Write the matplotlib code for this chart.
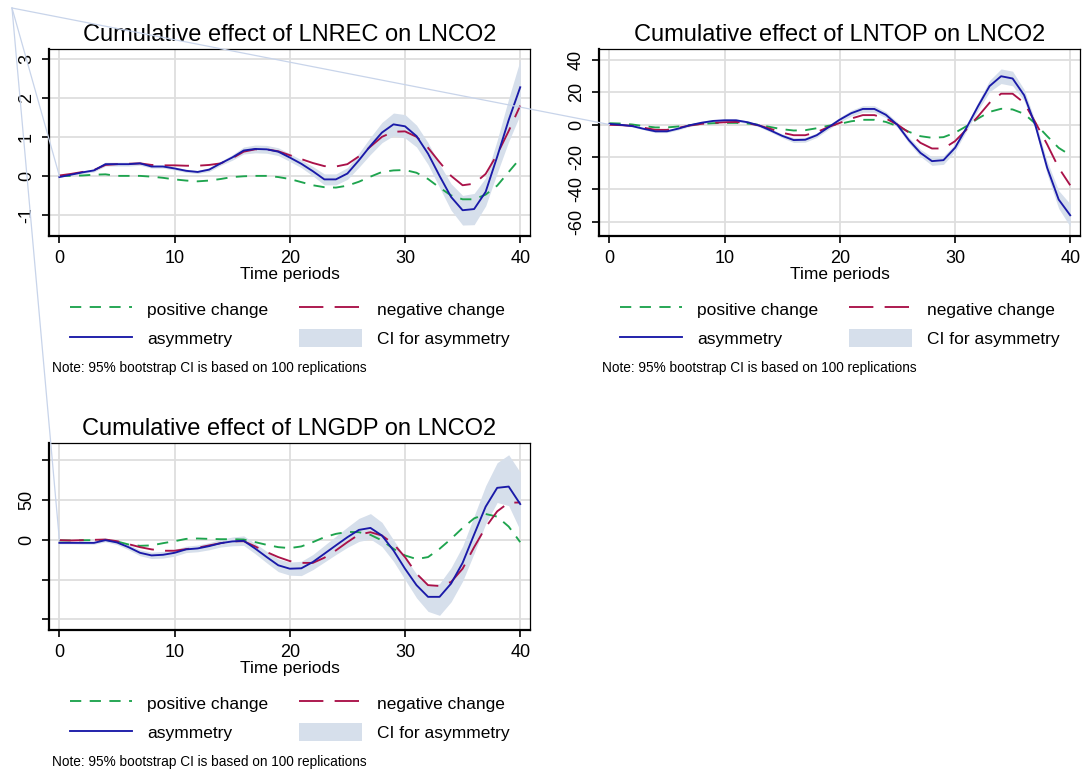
import numpy as np
import matplotlib
matplotlib.use("Agg")
import matplotlib.pyplot as plt
from matplotlib.lines import Line2D
from matplotlib.patches import Patch

plt.rcParams['font.family'] = ['Liberation Sans', 'DejaVu Sans']

t = list(range(41))

# LNREC panel
rec_pos = [0.0, 0.0, 0.01, 0.03, 0.04, 0.0, 0.0, 0.0, -0.02, -0.05, -0.09, -0.12, -0.14, -0.12, -0.08, -0.03,
           -0.01, 0.0, 0.0, -0.03, -0.08, -0.16, -0.24, -0.29, -0.30, -0.25, -0.15, -0.02, 0.10, 0.14, 0.15,
           0.08, -0.08, -0.30, -0.50, -0.60, -0.60, -0.48, -0.25, 0.10, 0.45]
rec_neg = [0.01, 0.05, 0.10, 0.15, 0.28, 0.30, 0.31, 0.32, 0.28, 0.27, 0.27, 0.26, 0.26, 0.28, 0.32, 0.45,
           0.62, 0.68, 0.68, 0.63, 0.53, 0.43, 0.33, 0.25, 0.24, 0.30, 0.50, 0.75, 1.00, 1.13, 1.14,
           1.00, 0.72, 0.35, 0.00, -0.24, -0.20, 0.05, 0.55, 1.15, 1.80]
rec_asym = [-0.03, 0.03, 0.09, 0.14, 0.30, 0.30, 0.30, 0.32, 0.24, 0.24, 0.19, 0.13, 0.10, 0.16, 0.32, 0.47,
            0.65, 0.69, 0.68, 0.62, 0.47, 0.31, 0.12, -0.09, -0.09, 0.06, 0.40, 0.77, 1.11, 1.32, 1.27,
            1.02, 0.57, 0.00, -0.54, -0.88, -0.85, -0.41, 0.49, 1.43, 2.27]
rec_lo = [-0.04, 0.01, 0.06, 0.10, 0.25, 0.25, 0.25, 0.27, 0.20, 0.20, 0.15, 0.09, 0.06, 0.11, 0.27, 0.40,
          0.56, 0.59, 0.58, 0.52, 0.37, 0.21, 0.00, -0.23, -0.23, -0.09, 0.22, 0.55, 0.85, 1.03, 0.97,
          0.74, 0.29, -0.30, -0.88, -1.26, -1.25, -0.77, 0.07, 0.88, 1.57]
rec_hi = [-0.02, 0.05, 0.12, 0.18, 0.35, 0.35, 0.35, 0.37, 0.28, 0.28, 0.23, 0.17, 0.14, 0.21, 0.37, 0.54,
          0.74, 0.79, 0.78, 0.72, 0.57, 0.41, 0.24, 0.05, 0.05, 0.21, 0.58, 0.99, 1.37, 1.61, 1.57,
          1.30, 0.85, 0.30, -0.20, -0.50, -0.45, -0.05, 0.91, 1.98, 2.97]

# LNTOP panel
top_pos = [0.8, 0.6, 0.0, -1.0, -1.8, -1.8, -1.2, -0.4, 0.4, 0.8, 1.0, 1.0, 0.6, -0.2, -1.6, -2.9, -3.7, -3.5,
           -2.3, -0.8, 0.4, 2.0, 2.9, 2.9, 1.6, -1.0, -4.5, -7.2, -8.2, -7.8, -5.1, -1.0, 3.7, 7.8, 9.7, 9.3,
           6.6, 0.4, -7.2, -14.4, -18.9]
top_neg = [-0.2, -0.4, -0.8, -2.0, -3.3, -3.3, -2.0, -0.6, 0.4, 1.0, 1.4, 1.6, 0.8, -0.6, -2.7, -5.1, -6.6,
           -6.6, -4.7, -1.6, 1.0, 3.7, 5.8, 5.8, 3.7, 0.0, -5.0, -11.3, -14.8, -14.8, -10.3, -3.0, 5.0, 13.4,
           19.0, 19.0, 13.4, 1.0, -12.3, -26.7, -37.5]
top_asym = [0.4, -0.2, -1.0, -2.7, -4.2, -4.2, -2.5, -0.4, 1.1, 2.2, 2.6, 2.6, 1.4, -0.6, -3.7, -7.0, -9.6,
            -9.4, -6.6, -1.8, 3.0, 7.0, 9.6, 9.6, 6.0, -0.2, -9.7, -17.5, -22.6, -22.0, -14.4, -2.0, 11.3,
            23.7, 29.8, 28.4, 18.1, -1.0, -26.7, -46.3, -56.0]
top_lo = [0.1, -0.6, -1.5, -3.3, -5.0, -5.0, -3.3, -1.2, 0.3, 1.4, 1.8, 1.8, 0.6, -1.5, -4.7, -8.2, -11.1,
          -10.9, -8.0, -3.1, 1.5, 5.2, 7.6, 7.6, 4.2, -1.8, -11.5, -19.7, -25.2, -24.6, -16.6, -4.0, 8.8,
          20.2, 25.3, 23.9, 14.6, -3.5, -30.7, -51.8, -63.0]
top_hi = [0.7, 0.2, -0.5, -2.1, -3.4, -3.4, -1.7, 0.4, 1.9, 3.0, 3.4, 3.4, 2.2, 0.3, -2.7, -5.8, -8.1, -7.9,
          -5.2, -0.5, 4.5, 8.8, 11.6, 11.6, 7.8, 1.4, -7.9, -15.3, -20.0, -19.4, -12.2, 0.0, 13.8, 27.2,
          34.3, 32.9, 21.6, 1.5, -22.7, -40.8, -49.0]

# LNGDP panel
gdp_pos = [-0.8, -0.8, -0.5, -0.4, 0.0, -2.0, -5.8, -7.5, -7.0, -4.2, -1.7, 1.2, 1.7, 1.2, 0.8, 0.8, 0.4,
           -2.9, -6.3, -9.2, -10.4, -8.3, -2.9, 3.3, 7.5, 10.0, 9.6, 6.3, -0.8, -11.3, -19.6, -24.2, -21.7,
           -11.3, 1.2, 15.0, 27.0, 32.5, 29.2, 16.7, -2.9]
gdp_neg = [-0.4, -0.8, -0.4, 0.0, 0.4, -1.7, -5.4, -9.2, -12.0, -13.7, -13.7, -11.7, -10.0, -7.0, -4.2, -2.0,
           -1.7, -8.3, -15.4, -21.7, -26.7, -29.0, -29.0, -22.5, -13.3, -2.9, 6.7, 9.6, 5.4, -5.0, -21.7,
           -42.5, -57.0, -58.0, -53.0, -36.3, -9.2, 15.8, 35.8, 46.7, 47.0]
gdp_asym = [-3.8, -3.8, -3.8, -3.8, -0.4, -3.3, -9.2, -16.3, -19.6, -18.8, -16.3, -12.0, -10.8, -7.9, -4.2,
            -2.0, -1.2, -11.0, -21.7, -32.0, -36.3, -35.8, -27.9, -17.5, -7.0, 3.3, 12.5, 15.0, 5.4, -13.3,
            -36.3, -57.0, -71.7, -71.7, -55.0, -29.0, 6.7, 41.7, 65.4, 67.0, 45.0]
gdp_lo = [-5, -5, -5.5, -5.5, -2.5, -6, -12.5, -20, -23.5, -23, -20.5, -16, -15, -12.5, -9, -7.5, -7, -17.5,
          -29, -40, -44.5, -45, -37.5, -28, -18.5, -9.5, -2, 1, -8.5, -27, -50, -73, -90, -95, -78, -52,
          -17, 20, 47, 43, 12]
gdp_hi = [-2.5, -2.5, -2, -2, 1.5, -0.5, -6, -12.5, -15.5, -14.5, -12, -8, -6.5, -3.5, 0.5, 3.5, 5, -4.5,
          -14.5, -24, -28, -27, -18.5, -7, 4.5, 16, 27, 33, 22, 0, -22, -43, -58, -55, -35, -8, 30, 68, 97,
          107, 85]

green = '#1ea44e'
red = '#aa1249'
blue = '#1a1aa8'
band = '#d6dfeb'
gridc = '#dedede'
LW = 1.35

fig = plt.figure(figsize=(10.82, 7.73), dpi=100)
W, H = 1082, 773


def panel(left, top, title, pos, neg, asym, lo, hi, yticks, ylabels, ylim):
    ax = fig.add_axes([left / W, 1 - (top + 187) / H, 481 / W, 187 / H])
    ax.fill_between(t, lo, hi, color=band, lw=0, zorder=1)
    ax.plot(t, pos, color=green, lw=LW, dashes=(6, 4.5), zorder=3)
    ax.plot(t, neg, color=red, lw=LW, dashes=(13, 6), zorder=3)
    ax.plot(t, asym, color=blue, lw=LW, zorder=4)
    ax.set_xlim(-0.9, 40.85)
    ax.set_ylim(*ylim)
    ax.set_xticks([0, 10, 20, 30, 40])
    ax.set_yticks(yticks, ylabels)
    plt.setp(ax.get_yticklabels(), rotation=90, va='center')
    ax.tick_params(labelsize=13, length=5, width=1.2, direction='out', pad=5)
    ax.grid(True, color=gridc, lw=1.3, zorder=0)
    ax.set_axisbelow(True)
    for s in ['left', 'bottom']:
        ax.spines[s].set_linewidth(1.6)
    for s in ['top', 'right']:
        ax.spines[s].set_linewidth(0.9)
    ax.set_xlabel('Time periods', fontsize=12.5, labelpad=0)
    ax.set_title(title, fontsize=17, pad=6)
    handles = [Line2D([], [], color=green, lw=LW, dashes=(6, 4.5)),
               Line2D([], [], color=blue, lw=LW),
               Line2D([], [], color=red, lw=LW, dashes=(13, 6)),
               Patch(facecolor=band, edgecolor='none')]
    labels = ['positive change', 'asymmetry', 'negative change', 'CI for asymmetry']
    ax.legend(handles, labels, ncol=2, loc='upper center', bbox_to_anchor=(0.5, -0.295),
              frameon=False, fontsize=12.5, handlelength=3.6, handleheight=1.2,
              handletextpad=0.85, columnspacing=1.8, labelspacing=0.68, borderpad=0)
    fig.text((left + 3) / W, 1 - (top + 319) / H,
             'Note: 95% bootstrap CI is based on 100 replications', fontsize=9.8, va='center')
    return ax


ax1 = panel(49, 49, 'Cumulative effect of LNREC on LNCO2', rec_pos, rec_neg, rec_asym, rec_lo, rec_hi,
            [-1, 0, 1, 2, 3], ['-1', '0', '1', '2', '3'], (-1.54, 3.25))
ax2 = panel(599, 49, 'Cumulative effect of LNTOP on LNCO2', top_pos, top_neg, top_asym, top_lo, top_hi,
            [-60, -40, -20, 0, 20, 40], ['-60', '-40', '-20', '0', '20', '40'], (-68.8, 46.6))
ax3 = panel(49, 443, 'Cumulative effect of LNGDP on LNCO2', gdp_pos, gdp_neg, gdp_asym, gdp_lo, gdp_hi,
            [-100, -50, 0, 50, 100], ['', '', '0', '50', ''], (-113.4, 121.8))

# stray polygon edges seen in the source image
start = (12 / W, 1 - 8 / H)
for ax in [ax1, ax2, ax3]:
    end = fig.transFigure.inverted().transform(ax.transData.transform((0, 0)))
    fig.add_artist(Line2D([start[0], end[0]], [start[1], end[1]], color='#c8d4ea', lw=0.9,
                          transform=fig.transFigure, zorder=5))

fig.savefig('out.png', dpi=100)
